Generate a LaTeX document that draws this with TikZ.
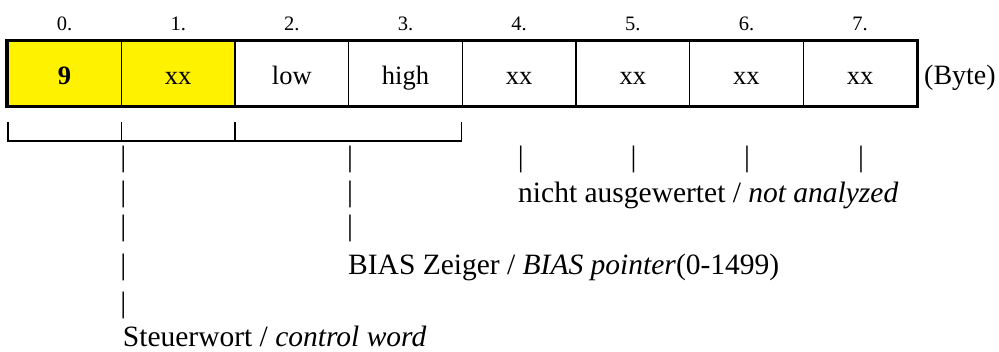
\documentclass[tikz,border=0pt]{standalone}
\usepackage{fontspec}
\setmainfont{Liberation Serif}
\begin{document}
\begin{tikzpicture}[x=1pt,y=-1pt,
  cell/.style={draw=black, line width=1.6pt, minimum width=113.66pt, minimum height=64pt,
    inner sep=0pt, text height=24.6pt, text depth=2pt, font=\fontsize{26.5}{28}\selectfont},
  yel/.style={fill=yellow},
  idx/.style={anchor=base, inner sep=0pt, font=\fontsize{20.5}{22}\selectfont},
  bar/.style={anchor=base, inner sep=0pt, font=\fontsize{29.5}{32}\selectfont},
  txt/.style={anchor=base west, inner sep=0pt, font=\fontsize{29.5}{32}\selectfont}]
\useasboundingbox (0,0) rectangle (999,352);
% cells
\foreach \i/\t/\s in {0/{\bfseries 9}/yel, 1/xx/yel, 2/low/, 3/high/, 4/xx/, 5/xx/, 6/xx/, 7/xx/}{
  \node[cell, \s] (c\i) at ({7.7+113.66*(\i+0.5)}, 73.7) {\t};
  \node[idx] (l\i) at ({7.7+113.66*(\i+0.5)}, 30.5) {\i.};
}
\draw[line width=3.2pt] (c0.north west) rectangle (c7.south east);
\node[anchor=base west, inner sep=0pt, font=\fontsize{28}{30}\selectfont] (byte) at (924,85) {(Byte)};
% bracket
\coordinate (b0) at (7.7,121.7);
\coordinate (b1) at (121.4,121.7);
\coordinate (b2) at (235,121.7);
\coordinate (b3) at (461.5,121.7);
\draw[line width=1.8pt] (b0) -- ++(0,19) -| (b1) (b1) ++(0,19) -| (b2) (b2) ++(0,19) -| (b3);
% vertical bars
\foreach \y [count=\k] in {167,202,236,275,313}{
  \node[bar] (pa\k) at (123.3,\y) {|};
}
\foreach \y [count=\k] in {167,202,236}{
  \node[bar] (pb\k) at (350,\y) {|};
}
\foreach \x [count=\k] in {520.7,633.5,747,861}{
  \node[bar] (pc\k) at (\x,167) {|};
}
% texts
\node[txt] (na) at (518,202.5) {nicht ausgewertet / \textit{not analyzed}};
\node[txt] (bias) at (348,275) {BIAS Zeiger / \textit{BIAS pointer}(0-1499)};
\node[txt] (steuer) at (122.7,346.5) {Steuerwort / \textit{control word}};
\end{tikzpicture}
\end{document}
